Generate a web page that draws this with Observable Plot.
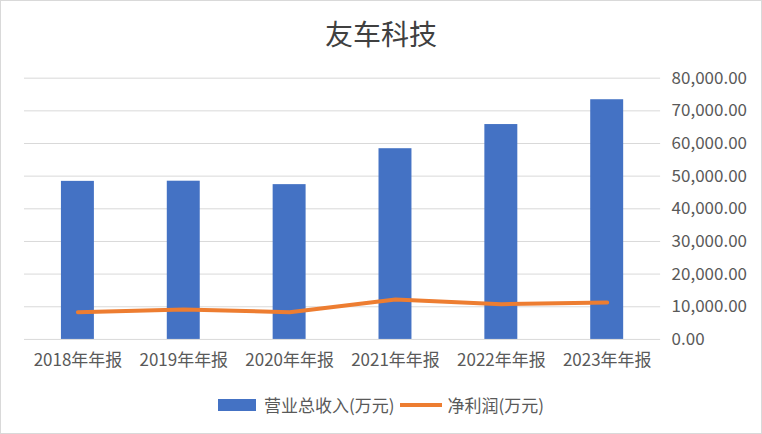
<!DOCTYPE html>
<html>
<head>
<meta charset="utf-8">
<script src="https://cdn.jsdelivr.net/npm/d3@7"></script>
<script src="https://cdn.jsdelivr.net/npm/@observablehq/plot@0.6"></script>
<style>
  html, body { margin: 0; padding: 0; background: #fff; }
  #chart { position: relative; width: 762px; height: 434px; box-sizing: border-box; border: 1px solid #d9d9d9; background: #fff; font-family: "Noto Sans CJK SC", "Noto Sans", sans-serif; }
  #title { position: absolute; left: 0; top: 12px; width: 100%; text-align: center; font-size: 28px; line-height: 40px; color: #404040; }
  #plot { position: absolute; left: -1px; top: 59px; }
  #legend { position: absolute; left: 0; top: 392px; width: 100%; display: flex; justify-content: center; align-items: center; font-size: 17px; color: #595959; line-height: 24px; }
  .sw-bar { display: inline-block; width: 38px; height: 12px; background: #4472C4; margin-right: 8px; }
  .sw-line { display: inline-block; width: 42px; height: 4px; background: #ED7D31; margin: 0 6px 0 5px; }
</style>
</head>
<body>
<div id="chart">
  <div id="title">友车科技</div>
  <div id="plot"></div>
  <div id="legend">
    <span class="sw-bar"></span><span>营业总收入(万元)</span>
    <span class="sw-line"></span><span>净利润(万元)</span>
  </div>
</div>
<script>
const years = ["2018年年报", "2019年年报", "2020年年报", "2021年年报", "2022年年报", "2023年年报"];
const revenue = [48400, 48450, 47400, 58400, 65800, 73400];
const profit = [8350, 9170, 8350, 12200, 10800, 11300];
const yTicks = [0, 10000, 20000, 30000, 40000, 50000, 60000, 70000, 80000];

const data = years.map((y, i) => ({year: y, revenue: revenue[i], profit: profit[i]}));
const fmt = d3.format(",.2f");

const chart = Plot.plot({
  width: 762,
  height: 322,
  marginLeft: 24,
  marginRight: 101,
  marginTop: 17.7,
  marginBottom: 42.7,
  style: { fontFamily: "'Noto Sans CJK SC', 'Noto Sans', sans-serif", fontSize: "17px", color: "#595959", background: "transparent" },
  x: { type: "band", domain: years, paddingInner: 0.69, paddingOuter: 0.345, label: null },
  y: { domain: [0, 80000], label: null },
  marks: [
    Plot.ruleY(yTicks, { stroke: "#d9d9d9", strokeWidth: 1 }),
    Plot.barY(data, { x: "year", y: "revenue", fill: "#4472C4" }),
    Plot.lineY(data, { x: "year", y: "profit", stroke: "#ED7D31", strokeWidth: 4, strokeLinejoin: "round", strokeLinecap: "round" }),
    Plot.axisX({ tickSize: 0, tickPadding: 15, fontSize: 17, fill: "#595959", label: null }),
    Plot.axisY({ anchor: "right", ticks: yTicks, tickFormat: fmt, tickSize: 0, tickPadding: 11, fontSize: 17, fill: "#595959", label: null })
  ]
});
document.getElementById("plot").appendChild(chart);
</script>
</body>
</html>
